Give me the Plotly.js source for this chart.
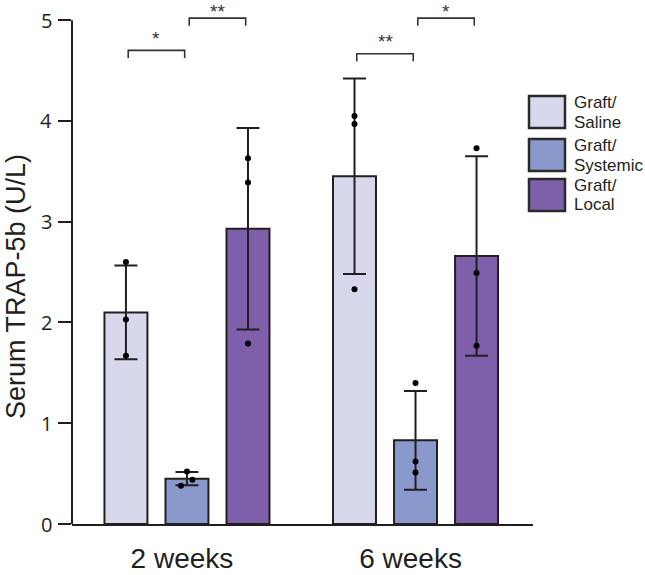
<!DOCTYPE html>
<html>
<head>
<meta charset="utf-8">
<script src="https://cdn.plot.ly/plotly-3.0.1.min.js"></script>
<style>
  html, body { margin: 0; padding: 0; background: #ffffff; }
  #chart { width: 645px; height: 575px; }
</style>
</head>
<body>
<div id="chart"></div>
<script>
// Serum TRAP-5b by treatment group at two timepoints
const timepoints = ['2 weeks', '6 weeks'];
const seriesNames = ['Graft/Saline', 'Graft/Systemic', 'Graft/Local'];
const seriesColors = ['#d7d8ec', '#8a99cc', '#7e5fa9'];

// group means (U/L), one entry per timepoint
const salineMean = [2.10, 3.45];
const systemicMean = [0.45, 0.83];
const localMean = [2.93, 2.66];

// error bar half-lengths
const salineErr = [0.465, 0.97];
const systemicErr = [0.065, 0.49];
const localErr = [1.00, 0.99];

// individual animals
const salinePoints = [[2.60, 2.03, 1.67], [4.05, 3.97, 2.33]];
const systemicPoints = [[0.52, 0.44, 0.38], [1.40, 0.62, 0.51]];
const localPoints = [[3.63, 3.39, 1.79], [3.73, 2.49, 1.77]];

// significance brackets: timepoint, pair of series, bracket height, label
const sigTimepoint = [0, 0, 1, 1];
const sigFrom = [0, 1, 0, 1];
const sigTo = [1, 2, 1, 2];
const sigLevel = [4.70, 5.02, 4.667, 5.02];
const sigLabel = ['*', '**', '**', '*'];

const yTicks = [0, 1, 2, 3, 4, 5];
const yTitle = 'Serum TRAP-5b (U/L)';

// ---- drawing ----
const means = [salineMean, systemicMean, localMean];
const errs = [salineErr, systemicErr, localErr];
const points = [salinePoints, systemicPoints, localPoints];

// horizontal spread of overlapping dots (only where dots touch)
const dotSpread = [[[0, 0, 0], [0, 0, 0]], [[0, 0.024, -0.026], [0, 0, 0]], [[0, 0, 0], [0, 0, 0]]];

const INK = '#231f20';
const SANS = 'Liberation Sans, Arial, sans-serif';
const SLOT = 0.267;     // distance between bar centres within a timepoint
const BAR_W = 0.188;
const YMAX = 5.2;
const M = { l: 72, r: 112, t: 0, b: 51 };
const W = 645, H = 575;
const plotW = W - M.l - M.r, plotH = H - M.t - M.b;

const xOf = (g, s) => g + (s - 1) * SLOT;
const pxX = px => (px - M.l) / plotW;
const pxY = py => (H - M.b - py) / plotH;
const dataToPx = v => H - M.b - (v / YMAX) * plotH;

const traces = [];
means.forEach((m, s) => {
  traces.push({
    type: 'bar',
    x: timepoints.map((_, g) => xOf(g, s)),
    y: m,
    width: BAR_W,
    marker: { color: seriesColors[s], line: { color: INK, width: 2 } },
    error_y: { type: 'data', array: errs[s], visible: true, color: INK, thickness: 2, width: 11.5 },
    showlegend: false,
    hoverinfo: 'skip'
  });
});
points.forEach((perTime, s) => {
  const xs = [], ys = [];
  perTime.forEach((vals, g) => {
    vals.forEach((v, i) => { xs.push(xOf(g, s) + dotSpread[s][g][i]); ys.push(v); });
  });
  traces.push({
    type: 'scatter', mode: 'markers', x: xs, y: ys,
    marker: { color: '#000000', size: 6 },
    showlegend: false, hoverinfo: 'skip', cliponaxis: false
  });
});

const shapes = [];
const annotations = [];

// y axis spine, ending at the top tick
shapes.push({ type: 'line', xref: 'paper', yref: 'paper', x0: 0, x1: 0, y0: 0, y1: 5 / YMAX,
              line: { color: INK, width: 2 } });

// y tick labels, set close to the tick marks
yTicks.forEach(v => {
  annotations.push({
    xref: 'paper', yref: 'y', x: pxX(52.5), y: v, xanchor: 'right', yanchor: 'middle',
    text: String(v), showarrow: false, borderpad: 0,
    font: { family: 'Open Sans, sans-serif', size: 20, color: INK }
  });
});

// y axis title, centred on the spine's span
annotations.push({
  xref: 'paper', yref: 'paper', x: pxX(16), y: pxY(287), xanchor: 'center', yanchor: 'middle',
  text: yTitle, textangle: -90, showarrow: false, borderpad: 0,
  font: { family: SANS, size: 27, color: INK }
});

// significance brackets with star labels
const LEG = 0.075, INSET = 0.01;
const STAR_FS = 19, STAR_LIFT = 10.7;
sigLevel.forEach((lvl, k) => {
  const g = sigTimepoint[k];
  const x0 = xOf(g, sigFrom[k]) + INSET;
  const x1 = xOf(g, sigTo[k]) - INSET;
  shapes.push({
    type: 'path', xref: 'x', yref: 'y',
    path: `M ${x0},${lvl - LEG} L ${x0},${lvl} L ${x1},${lvl} L ${x1},${lvl - LEG}`,
    line: { color: '#333333', width: 1.6 }
  });
  const glyphCentre = dataToPx(lvl) - STAR_LIFT;
  const boxTop = Math.max(0, glyphCentre - 0.66 * STAR_FS);
  annotations.push({
    xref: 'x', yref: 'paper', x: (x0 + x1) / 2, y: pxY(boxTop), yanchor: 'top', borderpad: 0,
    text: sigLabel[k], showarrow: false,
    font: { family: SANS, size: STAR_FS, color: '#333333' }
  });
});

// legend: swatch + two-line label per series
const LEG_TOP = [96, 139, 179];
const LINE_GAP = 20;
seriesNames.forEach((name, s) => {
  const top = LEG_TOP[s];
  shapes.push({
    type: 'rect', xref: 'paper', yref: 'paper',
    x0: pxX(529), x1: pxX(565), y0: pxY(top + 32), y1: pxY(top),
    fillcolor: seriesColors[s], line: { color: '#2a2a2a', width: 2.5 }
  });
  const cut = name.indexOf('/') + 1;
  const lines = [name.slice(0, cut), name.slice(cut)];
  lines.forEach((txt, i) => {
    annotations.push({
      xref: 'paper', yref: 'paper', x: pxX(573),
      y: pxY(top + 16 + (i - 0.5) * LINE_GAP),
      xanchor: 'left', yanchor: 'middle', text: txt, showarrow: false, borderpad: 0,
      font: { family: SANS, size: 17, color: INK }
    });
  });
});

const layout = {
  width: W, height: H,
  margin: M,
  paper_bgcolor: '#ffffff', plot_bgcolor: '#ffffff',
  showlegend: false,
  bargap: 0, barmode: 'overlay',
  xaxis: {
    range: [-0.503, 1.514],
    tickvals: timepoints.map((_, g) => g),
    ticktext: timepoints,
    ticks: '', showgrid: false, zeroline: false,
    showline: true, linecolor: INK, linewidth: 2,
    ticklabelshift: -5, ticklabelstandoff: 8,
    tickfont: { family: SANS, size: 28, color: INK }
  },
  yaxis: {
    range: [0, YMAX],
    tickvals: yTicks,
    ticks: 'outside', ticklen: 13, tickwidth: 2, tickcolor: INK,
    showticklabels: false,
    showline: false, showgrid: false, zeroline: false
  },
  shapes: shapes,
  annotations: annotations
};

Plotly.newPlot('chart', traces, layout, { displayModeBar: false, staticPlot: true });
</script>
</body>
</html>
